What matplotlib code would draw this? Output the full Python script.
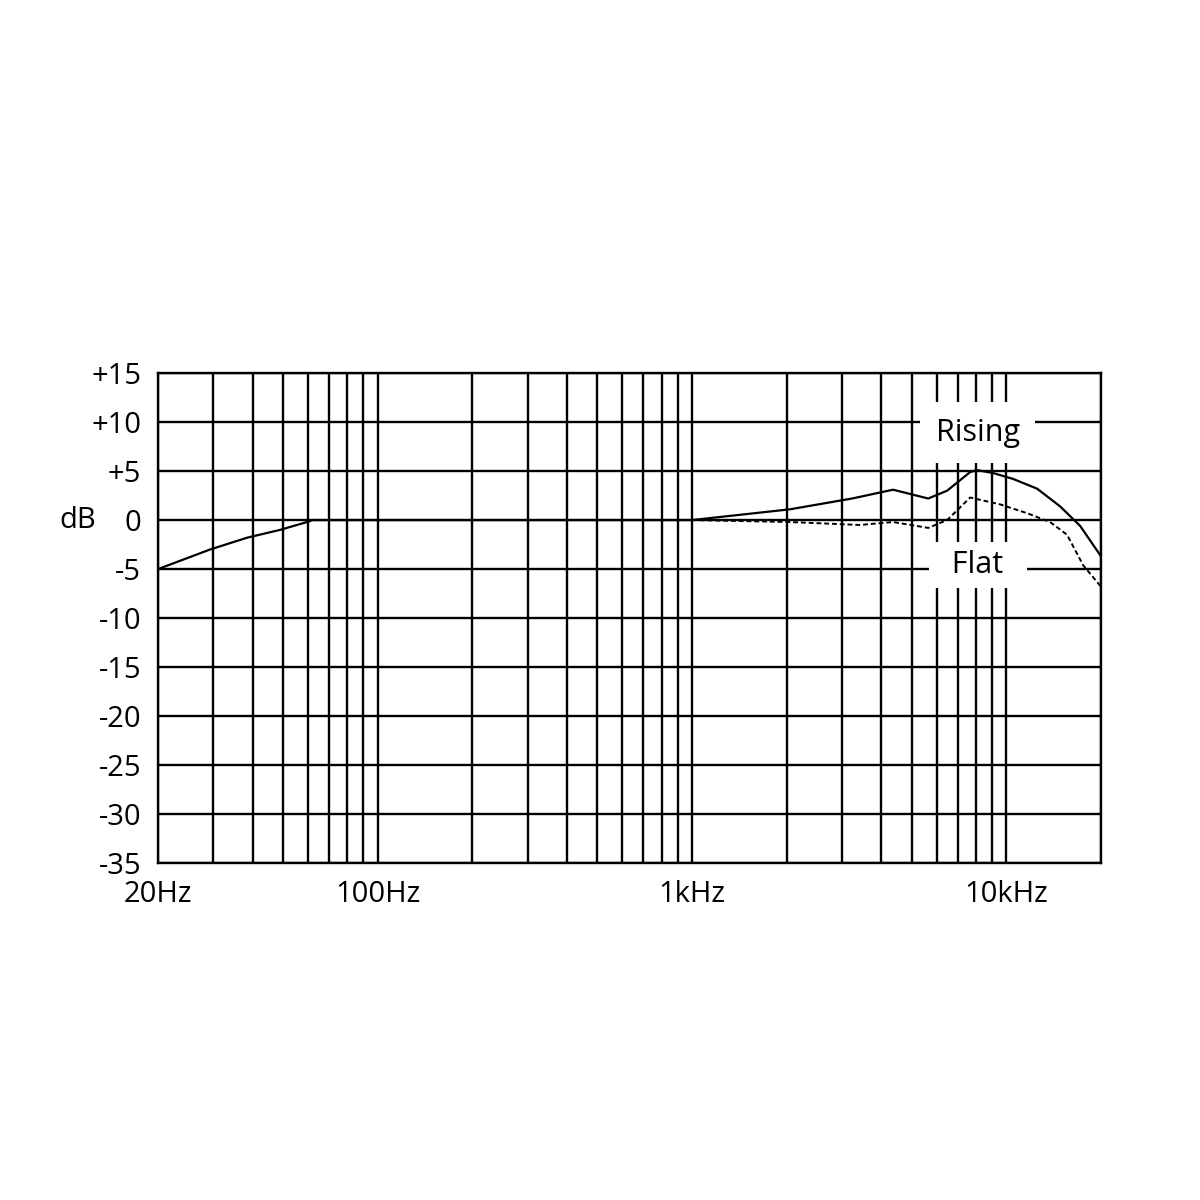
import numpy as np
import matplotlib
matplotlib.use('Agg')
import matplotlib.pyplot as plt
from matplotlib.ticker import FixedLocator, LogLocator, NullFormatter

plt.rcParams['font.family'] = ['Open Sans', 'DejaVu Sans']

# Rising response (Hz, dB)
rising_freq = [20, 29.3, 38.4, 48.9, 59.6, 62, 1000, 2050, 3230, 4360, 5640,
               6480, 7670, 8070, 9070, 10500, 12530, 14820, 17170, 20000]
rising_db = [-5, -3, -1.8, -1, -0.2, 0, 0, 1.1, 2.2, 3.1, 2.2,
             3.0, 4.9, 5.1, 4.8, 4.2, 3.2, 1.4, -0.6, -3.7]

# Flat response (Hz, dB)
flat_freq = [1000, 2050, 3420, 4360, 5640, 6480, 7670, 9550, 11640,
             13770, 15600, 17540, 20000]
flat_db = [0, -0.2, -0.5, -0.2, -0.8, 0, 2.3, 1.6, 0.7,
           -0.2, -1.5, -4.6, -6.8]

y_ticks = [15, 10, 5, 0, -5, -10, -15, -20, -25, -30, -35]
y_labels = ['+15', '+10', '+5', '0', '-5', '-10', '-15', '-20', '-25', '-30', '-35']
x_ticks = [20, 100, 1000, 10000]
x_labels = ['20Hz', '100Hz', '1kHz', '10kHz']

fig = plt.figure(figsize=(12, 12), dpi=100)
ax = fig.add_axes([0.1317, 0.2808, 0.7858, 0.4083])

ax.set_xscale('log')
ax.set_xlim(20, 20000)
ax.set_ylim(-35, 15)

ax.plot(rising_freq, rising_db, color='black', lw=1.6, zorder=3)
ax.plot(flat_freq, flat_db, color='black', lw=1.4, ls=(0, (2.5, 1.5)), zorder=3)

# grid
ax.xaxis.set_major_locator(FixedLocator(x_ticks))
ax.xaxis.set_minor_locator(LogLocator(base=10, subs=np.arange(2, 10)))
ax.xaxis.set_minor_formatter(NullFormatter())
ax.set_xticks(x_ticks)
ax.set_xticklabels(x_labels)
ax.set_yticks(y_ticks)
ax.set_yticklabels(y_labels)
ax.grid(True, which='both', axis='x', color='black', lw=1.7, zorder=1)
ax.grid(True, which='major', axis='y', color='black', lw=1.7, zorder=1)
ax.set_axisbelow(True)
ax.tick_params(which='both', length=0, labelsize=21)
ax.tick_params(axis='y', pad=12)
ax.tick_params(axis='x', pad=12)
for sp in ax.spines.values():
    sp.set_linewidth(1.7)

ax.text(-0.105, 0.7, 'dB', transform=ax.transAxes, fontsize=21,
        ha='left', va='center')

ax.text(8100, 8.1, 'Rising', fontsize=22, ha='center', va='baseline', zorder=2,
        bbox=dict(boxstyle='square,pad=0.5', fc='white', ec='none'))
ax.text(8100, -5.4, '  Flat  ', fontsize=22, ha='center', va='baseline', zorder=2,
        bbox=dict(boxstyle='square,pad=0.25', fc='white', ec='none'))

fig.savefig('out.png', dpi=100)
